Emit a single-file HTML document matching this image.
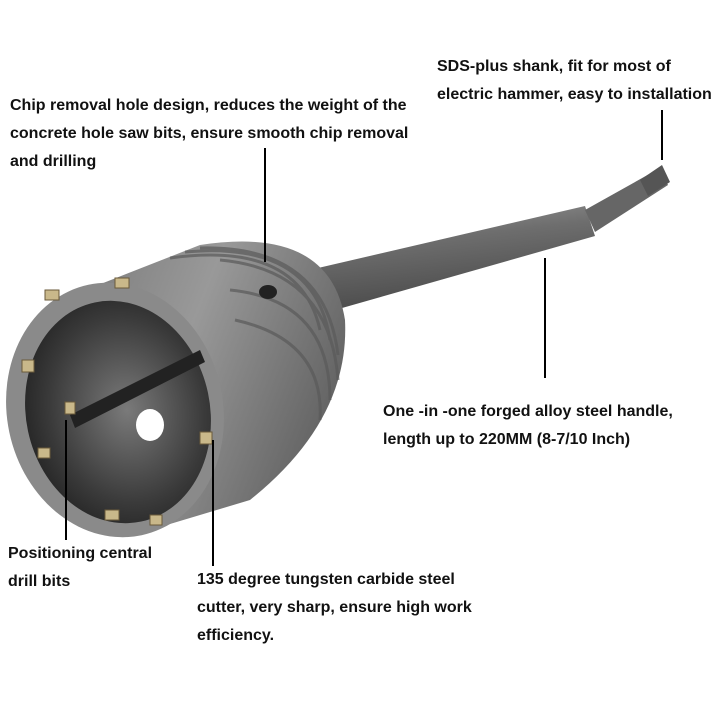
<!DOCTYPE html>
<html><head><meta charset="utf-8"><style>
body{margin:0;background:#fff;width:720px;height:720px;overflow:hidden;position:relative;font-family:"Liberation Sans",Arial,sans-serif}
.t{position:absolute;font-weight:bold;font-size:16px;color:#111;line-height:28px;white-space:nowrap}
svg{position:absolute;left:0;top:0}
</style></head><body>
<svg width="720" height="720" viewBox="0 0 720 720">
<defs>
<linearGradient id="sh" x1="0" y1="0" x2="0.3" y2="1">
<stop offset="0" stop-color="#9a9a9a"/><stop offset="0.4" stop-color="#6e6e6e"/><stop offset="1" stop-color="#4a4a4a"/></linearGradient>
<linearGradient id="bd" x1="0" y1="0" x2="1" y2="0.4">
<stop offset="0" stop-color="#777"/><stop offset="0.5" stop-color="#999"/><stop offset="1" stop-color="#666"/></linearGradient>
<radialGradient id="in" cx="0.55" cy="0.5" r="0.6">
<stop offset="0" stop-color="#7a7a7a"/><stop offset="0.7" stop-color="#3a3a3a"/><stop offset="1" stop-color="#222"/></radialGradient>
</defs>
<polygon points="318,268 585,206 595,236 335,310" fill="url(#sh)"/>
<polygon points="585,210 660,168 668,185 595,232" fill="#666"/>
<polygon points="640,180 662,165 670,182 648,196" fill="#555"/>
<path d="M60,300 L200,245 Q330,225 345,320 Q350,420 250,500 L150,530 Z" fill="url(#bd)"/>
<g stroke="#5a5a5a" stroke-width="3" fill="none" opacity="0.7">
<path d="M170,258 Q300,240 320,330"/><path d="M185,252 Q315,240 330,340"/><path d="M200,248 Q325,245 338,355"/>
<path d="M220,260 Q330,270 338,380"/><path d="M230,290 Q330,300 330,400"/><path d="M235,320 Q325,340 320,420"/>
</g>
<ellipse cx="268" cy="292" rx="9" ry="7" fill="#222"/>
<ellipse cx="115" cy="410" rx="108" ry="128" transform="rotate(-12 115 410)" fill="#8a8a8a"/>
<ellipse cx="118" cy="412" rx="92" ry="112" transform="rotate(-12 118 412)" fill="url(#in)"/>
<ellipse cx="150" cy="425" rx="14" ry="16" fill="#fff"/>
<path d="M70,415 L200,350 L205,362 L75,428 Z" fill="#222"/>
<g fill="#c9b88a" stroke="#6a5a3a" stroke-width="1">
<rect x="45" y="290" width="14" height="10"/><rect x="22" y="360" width="12" height="12"/><rect x="38" y="448" width="12" height="10"/>
<rect x="105" y="510" width="14" height="10"/><rect x="150" y="515" width="12" height="10"/><rect x="200" y="432" width="12" height="12"/>
<rect x="115" y="278" width="14" height="10"/><rect x="65" y="402" width="10" height="12"/>
</g>
<g stroke="#000" stroke-width="2">
<line x1="662" y1="110" x2="662" y2="160"/>
<line x1="265" y1="148" x2="265" y2="262"/>
<line x1="545" y1="258" x2="545" y2="378"/>
<line x1="66" y1="420" x2="66" y2="540"/>
<line x1="213" y1="440" x2="213" y2="566"/>
</g>
</svg>
<div class="t" style="left:437px;top:53px">SDS-plus shank, fit for most of<br>electric hammer, easy to installation</div>
<div class="t" style="left:10px;top:92px">Chip removal hole design, reduces the weight of the<br>concrete hole saw bits, ensure smooth chip removal<br>and drilling</div>
<div class="t" style="left:383px;top:398px">One -in -one forged alloy steel handle,<br>length up to 220MM (8-7/10 Inch)</div>
<div class="t" style="left:8px;top:540px">Positioning central<br>drill bits</div>
<div class="t" style="left:197px;top:566px">135 degree tungsten carbide steel<br>cutter, very sharp, ensure high work<br>efficiency.</div>
</body></html>
